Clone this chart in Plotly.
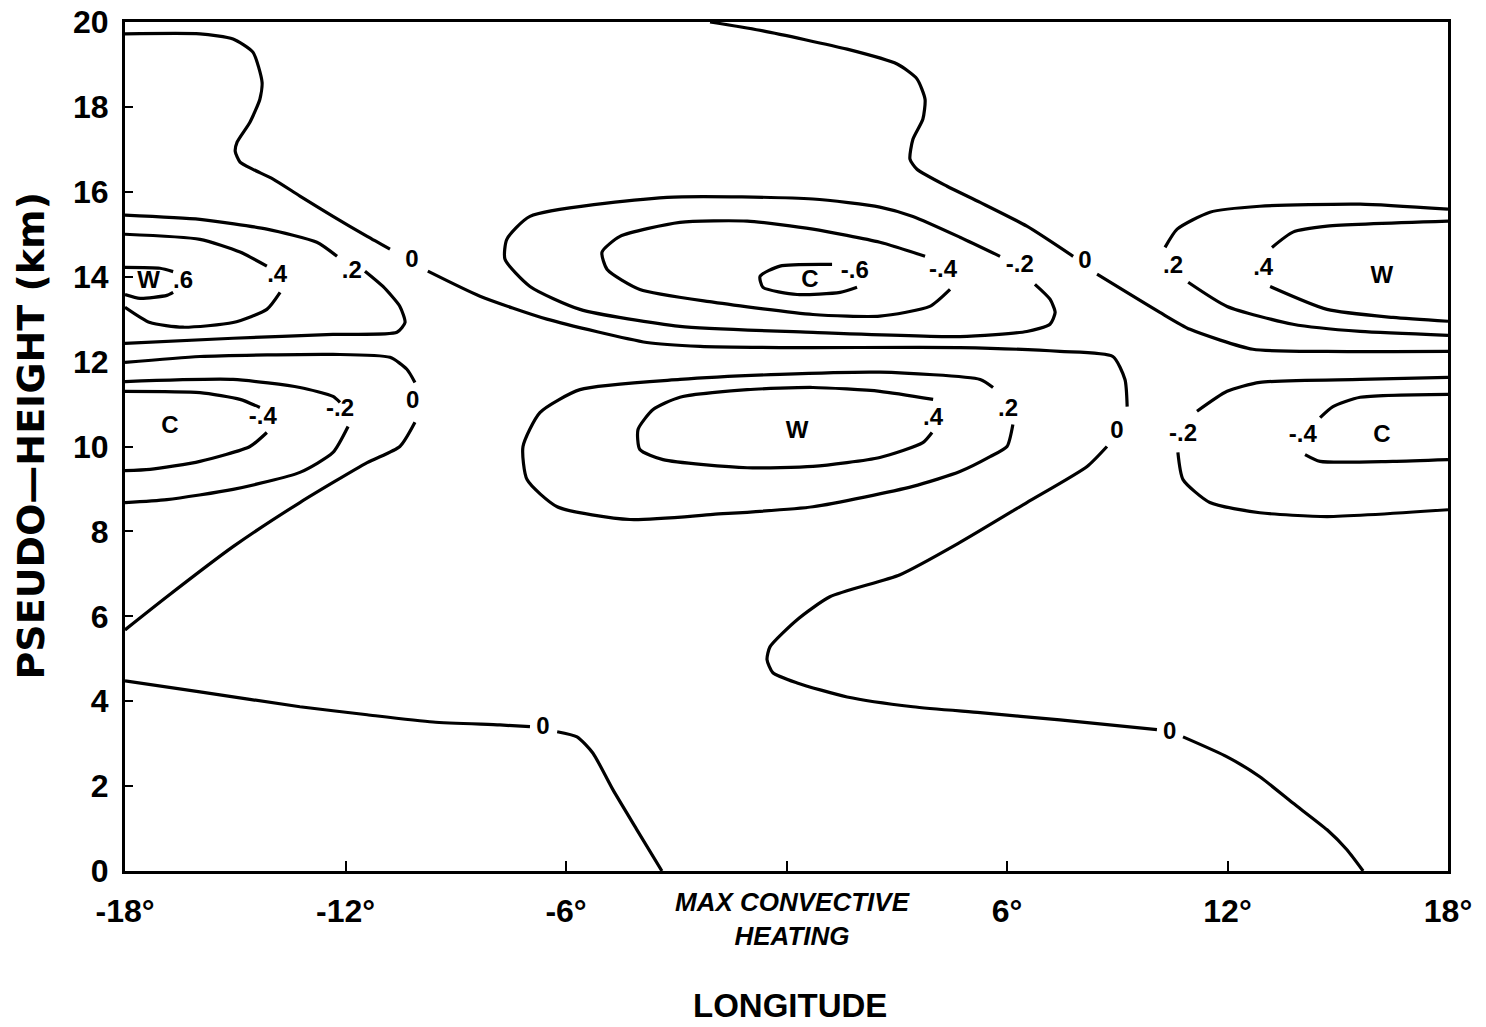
import plotly.graph_objects as go

# Temperature-perturbation contours (longitude in degrees, pseudo-height in km).
# None splits a contour where its value label sits on the line.

# 0 contour: west upper lobe, down under the central cold cell, around the
# central warm cell and down to the surface east of the heating maximum
zero_a_lon = [-18.0, -15.96, -15.06, -14.52, -14.27, -14.33, -14.60, -14.95, -15.0, -14.87,
              -14.52, -13.97, -13.24, -12.34, -11.41, -10.79, None,
              -9.76, -8.34, -6.52, -3.80, -2.35, 0.37, 4.72, 7.44, 8.88, 9.21, 9.27, None,
              8.72, 8.18, 6.54, 4.72, 3.09, 1.18, 0.29, -0.45, -0.53, -0.37, 0.29, 1.65,
              3.44, 5.27, 7.44, 10.08, None,
              10.79, 11.99, 12.88, 13.78, 14.71, 15.25, 15.69]
zero_a_km = [19.72, 19.72, 19.60, 19.29, 18.58, 18.18, 17.64, 17.17, 16.95, 16.70,
             16.53, 16.30, 15.90, 15.42, 14.95, 14.65, None,
             14.13, 13.54, 13.00, 12.45, 12.36, 12.33, 12.33, 12.24, 12.12, 11.58, 10.94, None,
             10.00, 9.53, 8.68, 7.74, 6.98, 6.46, 5.92, 5.28, 4.98, 4.67, 4.43, 4.10,
             3.87, 3.73, 3.56, 3.33, None,
             3.16, 2.69, 2.22, 1.60, 0.97, 0.50, 0.0]

# 0 contour: from the model top east of the heating down to the eastern edge
zero_b_lon = [-2.08, -0.64, 1.65, 3.01, 3.55, 3.77, 3.71, 3.44, 3.36, 3.55, 4.37, 5.27,
              6.54, 7.80, None, 8.45, 10.16, 10.98, 12.69, 14.71, 18.0]
zero_b_km = [20.0, 19.79, 19.36, 19.01, 18.66, 18.18, 17.71, 17.24, 16.77, 16.53, 16.13,
             15.75, 15.19, 14.48, None, 14.06, 13.16, 12.76, 12.29, 12.24, 12.24]

# 0 contour: western mid-level lobe
zero_c_lon = [-18.0, -15.96, -12.34, -10.79, -10.33, -10.11, None,
              -10.11, -10.52, -11.41, -13.24, -15.06, -16.86, -18.0]
zero_c_km = [11.98, 12.12, 12.17, 12.10, 11.82, 11.51, None,
             10.57, 10.00, 9.62, 8.68, 7.64, 6.46, 5.68]

# 0 contour: western lower branch reaching the surface
zero_d_lon = [-18.0, -15.96, -13.24, -11.41, -9.62, -7.80, -6.98, None,
              -6.24, -5.70, -5.27, -4.72, -4.07, -3.39]
zero_d_km = [4.48, 4.22, 3.87, 3.68, 3.51, 3.44, 3.40, None,
             3.28, 3.16, 2.78, 1.91, 0.97, 0.0]

# western warm cell (upper)
w_pos02_lon = [-18.0, -15.96, -14.14, -12.78, -12.23, None,
               -11.47, -10.98, -10.52, -10.38, -10.60, -12.34, -15.06, -18.0]
w_pos02_km = [15.45, 15.35, 15.12, 14.81, 14.48, None,
              14.13, 13.77, 13.30, 12.92, 12.69, 12.64, 12.55, 12.43]
w_pos04_lon = [-18.0, -15.96, -14.87, -14.14, None,
               -13.78, -14.14, -15.06, -16.42, -17.32, -18.0]
w_pos04_km = [15.0, 14.88, 14.58, 14.25, None,
              13.63, 13.23, 12.92, 12.81, 12.92, 13.28]
w_pos06_lon = [-18.0, -17.05, -16.69, None, -16.69, -16.86, -17.59, -18.0]
w_pos06_km = [14.22, 14.20, 14.12, None, 13.63, 13.56, 13.49, 13.58]

# western cold cell (lower)
w_neg02_lon = [-18.0, -15.06, -13.24, -12.34, -12.15, None,
               -11.93, -12.34, -13.24, -15.06, -16.86, -18.0]
w_neg02_km = [11.53, 11.58, 11.39, 11.18, 11.04, None,
              10.47, 9.86, 9.39, 8.99, 8.75, 8.68]
w_neg04_lon = [-18.0, -15.96, -14.87, -14.33, None,
               -14.14, -14.60, -15.96, -17.32, -18.0]
w_neg04_km = [11.30, 11.27, 11.11, 10.92, None,
              10.33, 10.00, 9.65, 9.46, 9.43]

# central cold cell (upper)
c_neg02_lon = [5.81, 4.72, 3.44, 2.54, 0.72, -3.25, -6.98, -7.61, -7.66, -6.98, -5.62,
               -2.90, 0.72, 4.72, 6.54, 7.17, 7.31, 7.17, 6.76]
c_neg02_km = [14.48, 14.93, 15.42, 15.64, 15.83, 15.87, 15.42, 14.88, 14.41, 13.77, 13.23,
              12.83, 12.69, 12.59, 12.71, 12.88, 13.16, 13.47, 13.82]
c_neg04_lon = [3.77, 2.54, 0.72, -1.07, -2.90, -4.53, -5.02, -4.88, -3.99, -2.00, 0.72,
               2.54, 3.90, 4.45]
c_neg04_km = [14.48, 14.81, 15.12, 15.31, 15.28, 14.95, 14.58, 14.17, 13.70, 13.40, 13.11,
              13.07, 13.30, 13.70]
c_neg06_lon = [1.24, -0.18, -0.72, -0.64, 0.29, 1.46, 1.92]
c_neg06_km = [14.29, 14.25, 14.01, 13.75, 13.58, 13.63, 13.75]

# central warm cell (lower)
c_pos02_lon = [5.62, 5.27, 2.54, -0.18, -2.90, -5.62, -6.71, -7.17, -7.06, -6.24, -4.26,
               -2.0, 0.72, 3.44, 4.72, 5.54, 6.0, 6.16]
c_pos02_km = [11.39, 11.58, 11.75, 11.70, 11.58, 11.34, 10.80, 10.0, 9.22, 8.58, 8.28,
              8.40, 8.58, 9.06, 9.41, 9.76, 10.0, 10.52]
c_pos04_lon = [3.99, 2.54, 0.72, -1.07, -2.90, -3.63, -4.04, -3.99, -3.36, -1.07, 0.72,
               2.54, 3.71, 3.96]
c_pos04_km = [11.11, 11.30, 11.39, 11.34, 11.16, 10.87, 10.40, 9.93, 9.69, 9.50, 9.53,
              9.74, 10.09, 10.33]

# eastern warm cell (upper)
e_pos02_lon = [18.0, 15.61, 12.88, 11.52, 10.63, 10.30, None,
               10.93, 11.99, 13.78, 15.61, 18.0]
e_pos02_km = [15.59, 15.71, 15.66, 15.52, 15.12, 14.69, None,
              13.87, 13.30, 12.88, 12.71, 12.62]
e_pos04_lon = [18.0, 14.71, 13.78, 13.21, None, 13.16, 14.71, 16.50, 18.0]
e_pos04_km = [15.31, 15.19, 15.05, 14.69, None, 13.77, 13.23, 13.04, 12.95]

# eastern cold cell (lower)
e_neg02_lon = [18.0, 15.61, 12.88, 11.99, 11.17, None,
               10.65, 10.79, 11.52, 12.88, 14.71, 18.0]
e_neg02_km = [11.63, 11.58, 11.51, 11.30, 10.83, None,
              9.86, 9.22, 8.68, 8.44, 8.35, 8.51]
e_neg04_lon = [18.0, 15.61, 14.87, 14.52, None, 14.11, 14.52, 16.50, 18.0]
e_neg04_km = [11.23, 11.16, 10.94, 10.68, None, 9.81, 9.65, 9.65, 9.69]

# contour values and cell markers written on the field
label_text = ["0", "0", "0", "0", "0", "0",
              ".2", ".4", "W", ".6", "C", "-.4", "-.2",
              "C", "-.6", "-.4", "-.2", "W", ".4", ".2",
              ".2", ".4", "W", "-.2", "-.4", "C"]
label_lon = [-10.19, -10.17, -6.63, 8.99, 10.43, 8.12,
             -11.83, -13.86, -17.36, -16.42, -16.78, -14.25, -12.15,
             0.64, 1.86, 4.26, 6.35, 0.29, 3.99, 6.03,
             10.52, 12.97, 16.2, 10.79, 14.05, 16.2]
label_km = [14.36, 11.06, 3.37, 10.35, 3.25, 14.34,
            14.10, 14.01, 13.87, 13.87, 10.47, 10.68, 10.87,
            13.89, 14.10, 14.13, 14.25, 10.35, 10.64, 10.87,
            14.22, 14.17, 13.99, 10.28, 10.24, 10.24]

x_ticks = [-18, -12, -6, 0, 6, 12, 18]
x_tick_text = ["-18°", "-12°", "-6°", "", "6°", "12°", "18°"]
y_ticks = [0, 2, 4, 6, 8, 10, 12, 14, 16, 18, 20]

contours = [
    (zero_a_lon, zero_a_km), (zero_b_lon, zero_b_km),
    (zero_c_lon, zero_c_km), (zero_d_lon, zero_d_km),
    (w_pos02_lon, w_pos02_km), (w_pos04_lon, w_pos04_km), (w_pos06_lon, w_pos06_km),
    (w_neg02_lon, w_neg02_km), (w_neg04_lon, w_neg04_km),
    (c_neg02_lon, c_neg02_km), (c_neg04_lon, c_neg04_km), (c_neg06_lon, c_neg06_km),
    (c_pos02_lon, c_pos02_km), (c_pos04_lon, c_pos04_km),
    (e_pos02_lon, e_pos02_km), (e_pos04_lon, e_pos04_km),
    (e_neg02_lon, e_neg02_km), (e_neg04_lon, e_neg04_km),
]

FONT = "Liberation Sans, Arial, sans-serif"
WIDE_FONT = "DejaVu Sans, Liberation Sans, sans-serif"

fig = go.Figure()
for lon, km in contours:
    fig.add_trace(go.Scatter(
        x=lon, y=km, mode="lines", connectgaps=False,
        line=dict(color="black", width=3.2, shape="spline", smoothing=0.6),
        hoverinfo="skip", showlegend=False,
    ))

fig.add_trace(go.Scatter(
    x=label_lon, y=label_km, mode="text", text=label_text,
    textfont=dict(family=FONT, size=24, color="black", weight="bold"),
    textposition="middle center", hoverinfo="skip", showlegend=False,
))

fig.update_xaxes(
    range=[-18, 18], tickvals=x_ticks, ticktext=x_tick_text,
    ticks="inside", ticklen=10, tickwidth=2, tickcolor="black",
    showline=True, linecolor="black", linewidth=3, mirror=True,
    showgrid=False, zeroline=False, ticklabelstandoff=10, automargin=False,
    tickfont=dict(family=FONT, size=32, color="black", weight="bold"),
)
fig.update_yaxes(
    range=[0, 20], tickvals=y_ticks,
    ticks="inside", ticklen=8, tickwidth=2, tickcolor="black",
    showline=True, linecolor="black", linewidth=3, mirror=True,
    showgrid=False, zeroline=False, ticklabelstandoff=7, automargin=False,
    tickfont=dict(family=FONT, size=32, color="black", weight="bold"),
)

fig.add_annotation(
    text="PSEUDO—HEIGHT (km)", textangle=-90, xref="paper", yref="paper",
    x=-0.071, y=0.513, xanchor="center", yanchor="middle", showarrow=False,
    font=dict(family=WIDE_FONT, size=38, color="black", weight="bold"),
)
fig.add_annotation(
    text="LONGITUDE", xref="x", yref="paper", x=0.1, y=-0.159,
    xanchor="center", yanchor="middle", showarrow=False,
    font=dict(family=FONT, size=33, color="black", weight="bold"),
)
fig.add_annotation(
    text="<i>MAX CONVECTIVE</i><br><i>HEATING</i>", xref="x", yref="paper",
    x=0.15, y=-0.016, xanchor="center", yanchor="top", showarrow=False,
    font=dict(family=FONT, size=26, color="black", weight="bold"),
)

fig.update_layout(
    width=1486, height=1027,
    margin=dict(l=125, r=38, t=22, b=156),
    paper_bgcolor="white", plot_bgcolor="white",
)

fig.write_html("out.html")
